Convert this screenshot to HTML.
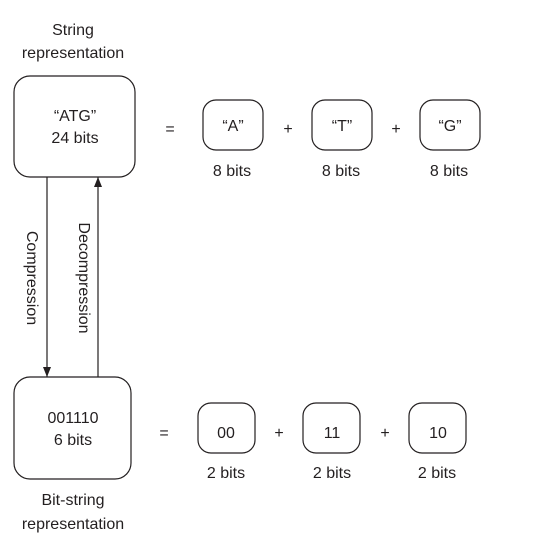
<!DOCTYPE html>
<html><head><style>body{margin:0;background:#fff}</style></head><body>
<svg width="538" height="550" xmlns="http://www.w3.org/2000/svg" font-family="Liberation Sans, sans-serif" font-size="16" fill="#231f20">
<defs><marker id="a" markerWidth="10" markerHeight="8" refX="10" refY="4" orient="auto" markerUnits="userSpaceOnUse"><path d="M0,0 L10,4 L0,8 z" fill="#231f20"/></marker></defs>
<g fill="none" stroke="#231f20" stroke-width="1.2">
<rect x="14" y="76" width="121" height="101" rx="16"/>
<rect x="14" y="377" width="117" height="102" rx="16"/>
<rect x="203" y="100" width="60" height="50" rx="13"/>
<rect x="312" y="100" width="60" height="50" rx="13"/>
<rect x="420" y="100" width="60" height="50" rx="13"/>
<rect x="198" y="403" width="57" height="50" rx="13"/>
<rect x="303" y="403" width="57" height="50" rx="13"/>
<rect x="409" y="403" width="57" height="50" rx="13"/>
<line x1="47" y1="177" x2="47" y2="377" marker-end="url(#a)"/>
<line x1="98" y1="377" x2="98" y2="177" marker-end="url(#a)"/>
</g>
<g text-anchor="middle">
<text x="73" y="35">String</text>
<text x="73" y="58">representation</text>
<text x="75" y="121">“ATG”</text>
<text x="75" y="143">24 bits</text>
<text x="170" y="134">=</text>
<text x="233" y="131">“A”</text>
<text x="342" y="131">“T”</text>
<text x="450" y="131">“G”</text>
<text x="288" y="134">+</text>
<text x="396" y="134">+</text>
<text x="232" y="176">8 bits</text>
<text x="341" y="176">8 bits</text>
<text x="449" y="176">8 bits</text>
<text x="73" y="423">001110</text>
<text x="73" y="445">6 bits</text>
<text x="164" y="438">=</text>
<text x="226" y="438">00</text>
<text x="332" y="438">11</text>
<text x="438" y="438">10</text>
<text x="279" y="438">+</text>
<text x="385" y="438">+</text>
<text x="226" y="478">2 bits</text>
<text x="332" y="478">2 bits</text>
<text x="437" y="478">2 bits</text>
<text x="73" y="505">Bit-string</text>
<text x="73" y="529">representation</text>
<text transform="translate(27,278) rotate(90)">Compression</text>
<text transform="translate(79,278) rotate(90)">Decompression</text>
</g>
</svg>
</body></html>
